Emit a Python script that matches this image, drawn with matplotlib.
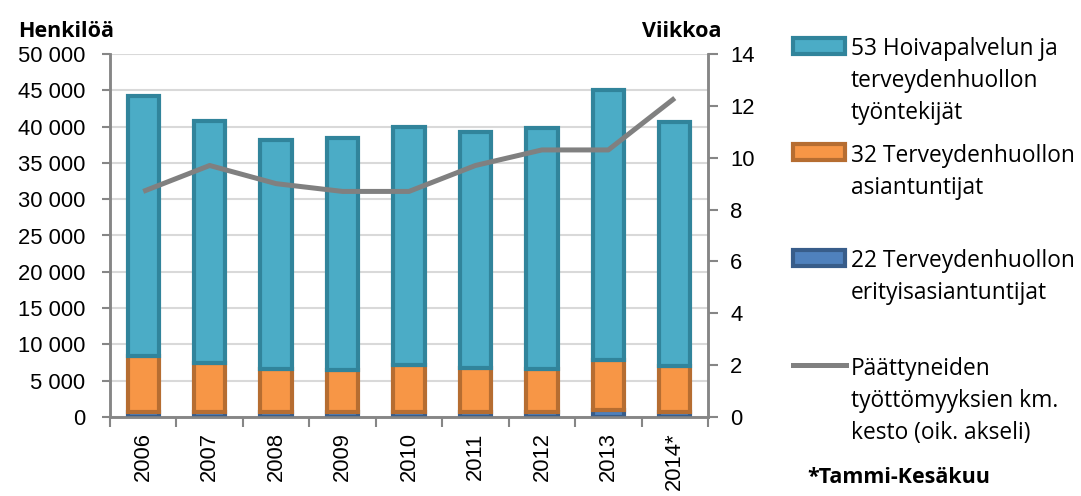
import numpy as np
import matplotlib.pyplot as plt
from matplotlib.patches import Rectangle
from matplotlib.lines import Line2D

years = ['2006', '2007', '2008', '2009', '2010', '2011', '2012', '2013', '2014*']
# Henkilöä
erityis = np.array([700, 700, 700, 700, 700, 700, 700, 1000, 700])           # 22
asiantuntijat = np.array([7700, 6700, 5900, 5800, 6400, 6000, 5900, 6900, 6300])  # 32
hoiva = np.array([35800, 33400, 31600, 31900, 32900, 32600, 33200, 37200, 33600])  # 53
# Viikkoa
kesto = np.array([8.7, 9.7, 9.0, 8.7, 8.7, 9.7, 10.3, 10.3, 12.3])

labels = [['53 Hoivapalvelun ja', 'terveydenhuollon', 'työntekijät'],
          ['32 Terveydenhuollon', 'asiantuntijat'],
          ['22 Terveydenhuollon', 'erityisasiantuntijat'],
          ['Päättyneiden', 'työttömyyksien km.', 'kesto (oik. akseli)']]

c_hoiva, e_hoiva = '#4BACC6', '#31849B'
c_asi, e_asi = '#F79646', '#B66D31'
c_eri, e_eri = '#4F81BD', '#385D8A'
c_line = '#808080'
axcol = '#868686'

W, H = 1081, 496
fig = plt.figure(figsize=(W / 100, H / 100), dpi=100)
ax = fig.add_axes([110 / W, (H - 417) / H, 598 / W, 363 / H])
ax2 = ax.twinx()

x = np.arange(len(years))
bw = 0.47
lw = 3.0
ax.bar(x, erityis, bw, color=c_eri, edgecolor=e_eri, linewidth=lw, zorder=3)
ax.bar(x, asiantuntijat, bw, bottom=erityis, color=c_asi, edgecolor=e_asi, linewidth=lw, zorder=3)
ax.bar(x, hoiva, bw, bottom=erityis + asiantuntijat, color=c_hoiva, edgecolor=e_hoiva, linewidth=lw, zorder=3)

ax2.plot(x, kesto, color=c_line, linewidth=3.6, solid_capstyle='butt', zorder=4)

tickfont = {'family': 'Liberation Sans', 'size': 15.8}
ax.set_xlim(-0.5, len(years) - 0.5)
ax.set_ylim(0, 50000)
yt = np.arange(0, 50001, 5000)
ax.set_yticks(yt)
ax.set_yticklabels([f'{v:,}'.replace(',', ' ') for v in yt], fontdict=tickfont)
ax.yaxis.grid(True, color='#D9D9D9', linewidth=1.5, zorder=0)
ax.set_axisbelow(True)

ax.set_xticks(x)
ax.set_xticklabels(years, rotation=90, fontdict=tickfont)
ax.set_xticks(np.arange(-0.5, len(years), 1), minor=True)
ax.tick_params(axis='x', which='major', length=0, pad=11)
ax.tick_params(axis='x', which='minor', length=7, width=1.5, color=axcol)
ax.tick_params(axis='y', length=6, width=1.5, color=axcol, pad=12)

ax2.set_ylim(0, 14)
ax2.set_yticks(np.arange(0, 15, 2))
ax2.set_yticklabels([str(v) for v in range(0, 15, 2)], fontdict=tickfont)
ax2.tick_params(axis='y', length=7, width=1.5, color=axcol, pad=9)

for a in (ax, ax2):
    a.spines['top'].set_visible(False)
    for s in ['left', 'right', 'bottom']:
        a.spines[s].set_color(axcol)
        a.spines[s].set_linewidth(1.8)

lblfont = dict(family='Open Sans', size=15.5, fontweight='bold')
fig.text(18 / W, 1 - 37 / H, 'Henkilöä', ha='left', va='baseline', **lblfont)
fig.text(722 / W, 1 - 37 / H, 'Viikkoa', ha='right', va='baseline', **lblfont)

# legend drawn by hand to follow the original layout
legfont = dict(family='Open Sans', size=16.4)
items = [(c_hoiva, e_hoiva, 46, 55), (c_asi, e_asi, 152, 162), (c_eri, e_eri, 258, 267)]
for (fc, ec, yc, yb), lines in zip(items, labels[:3]):
    fig.add_artist(Rectangle((793 / W, 1 - (yc + 8) / H), 52 / W, 16 / H,
                             transform=fig.transFigure, facecolor=fc,
                             edgecolor=ec, linewidth=3))
    for i, t in enumerate(lines):
        fig.text(851 / W, 1 - (yb + 32 * i) / H, t, ha='left', va='baseline', **legfont)
fig.add_artist(Line2D([793 / W, 846 / W], [1 - 365 / H, 1 - 365 / H],
                      transform=fig.transFigure, color=c_line, linewidth=3.6))
for i, t in enumerate(labels[3]):
    fig.text(851 / W, 1 - (375 + 32 * i) / H, t, ha='left', va='baseline', **legfont)
fig.text(807 / W, 1 - 483 / H, '*Tammi-Kesäkuu', ha='left', va='baseline', **lblfont)

fig.savefig('out.png', dpi=100)
